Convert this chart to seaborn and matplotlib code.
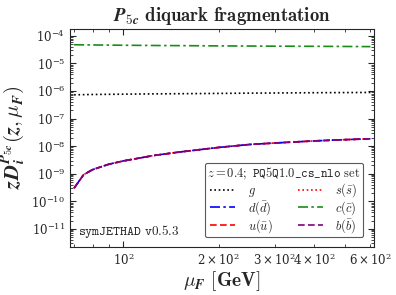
import numpy as np
import pandas as pd
import matplotlib
matplotlib.use("Agg")
import matplotlib.pyplot as plt
import seaborn as sns

# factorisation scale [GeV]
mu_F = [70, 75, 80, 90, 100, 125, 150, 200, 250, 300, 400, 500, 600]

# z D_i^{P5c}(z, mu_F) at z = 0.4
D_g = [7.3e-7, 7.4e-7, 7.5e-7, 7.6e-7, 7.7e-7, 7.9e-7, 8.0e-7, 8.2e-7, 8.4e-7, 8.5e-7, 8.7e-7, 8.8e-7, 8.9e-7]
D_c = [4.8e-5, 4.75e-5, 4.7e-5, 4.65e-5, 4.6e-5, 4.5e-5, 4.45e-5, 4.35e-5, 4.3e-5, 4.25e-5, 4.2e-5, 4.15e-5, 4.1e-5]
D_b = [3.0e-10, 9.2e-10, 1.4e-9, 2.2e-9, 2.9e-9, 4.6e-9, 6.1e-9, 9.0e-9, 1.15e-8, 1.3e-8, 1.55e-8, 1.72e-8, 1.85e-8]
D_s = D_b
D_d = D_b
D_u = D_b

labels = {"g": r"$g$", "s": r"$s(\bar{s})$", "d": r"$d(\bar{d})$",
          "c": r"$c(\bar{c})$", "u": r"$u(\bar{u})$", "b": r"$b(\bar{b})$"}
styles = {"g": ("black", (0, (1, 1.6))),
          "s": ("red", (0, (1, 1.6))),
          "d": ("blue", (0, (6, 2, 1.5, 2))),
          "c": ("#1a8c1a", (0, (6, 2, 1.5, 2))),
          "u": ("red", (0, (4, 2))),
          "b": ("purple", (0, (4, 2)))}
series = {"g": D_g, "s": D_s, "d": D_d, "c": D_c, "u": D_u, "b": D_b}

sns.set_style("ticks")
plt.rcParams["mathtext.fontset"] = "cm"
plt.rcParams["font.family"] = ["DejaVu Serif"]
plt.rcParams["axes.formatter.use_mathtext"] = True

title = r"$\mathbfit{P}_{\mathbf{5}\mathbfit{c}}\ \mathbf{diquark\ fragmentation}$"
ylab = r"$\mathbfit{zD}_{\mathbfit{i}}^{\mathbfit{P}_{\mathbf{5}\mathbfit{c}}}\mathbf{(}\mathbfit{z}\mathbf{,}\,\mu_{\mathbfit{F}}\mathbf{)}$"
xlab = r"$\mu_{\mathbfit{F}}\ \mathbf{[GeV]}$"
try:
    from matplotlib.mathtext import MathTextParser
    p = MathTextParser("agg")
    for t in (title, ylab, xlab):
        p.parse(t, dpi=100)
except Exception:
    title = r"$P_{5c}\ \mathbf{diquark\ fragmentation}$"
    ylab = r"$zD_i^{P_{5c}}(z,\mu_F)$"
    xlab = r"$\mu_F\ \mathbf{[GeV]}$"

fig = plt.figure(figsize=(3.96, 2.95), dpi=100)
ax = fig.add_axes([0.177, 0.163, 0.767, 0.739])
ax.set_xscale("log")
ax.set_yscale("log")

handles = {}
for key in ["g", "s", "d", "c", "u", "b"]:
    df = pd.DataFrame({"mu": mu_F, "D": series[key]})
    col, ls = styles[key]
    sns.lineplot(data=df, x="mu", y="D", ax=ax, color=col, linestyle=ls,
                 linewidth=1.2, label=labels[key], legend=False)
    handles[key] = ax.lines[-1]

ax.set_xlim(68, 615)
ax.set_ylim(2.2e-12, 1.8e-4)
ax.tick_params(which="both", direction="in", top=True, right=True, labelsize=8.5)
ax.tick_params(which="major", length=4, width=0.8)
ax.tick_params(which="minor", length=2, width=0.6)
for s in ax.spines.values():
    s.set_linewidth(0.8)

ax.set_title(title, fontsize=13.5, pad=6)
ax.set_xlabel(xlab, fontsize=14, labelpad=1)
ax.set_ylabel(ylab, fontsize=15, labelpad=3)

order = ["g", "d", "u", "s", "c", "b"]
leg = ax.legend([handles[k] for k in order], [labels[k] for k in order],
                ncol=2, loc="lower right", fontsize=9,
                title=r"$z = \mathbf{0.4};\ \mathtt{PQ5Q1.0\_cs\_nlo}\ \mathrm{set}$",
                title_fontsize=9, frameon=True, fancybox=True, edgecolor="0.35",
                framealpha=1, handlelength=2.0, columnspacing=2.0,
                labelspacing=0.0, borderpad=0.2, handletextpad=1.0,
                bbox_to_anchor=(0.985, 0.015))
leg.get_frame().set_linewidth(0.8)

ax.text(0.025, 0.03, r"$\mathtt{symJETHAD\ v0.5.3}$", transform=ax.transAxes,
        fontsize=9.5, ha="left", va="bottom")

fig.savefig("out.png", dpi=100)
